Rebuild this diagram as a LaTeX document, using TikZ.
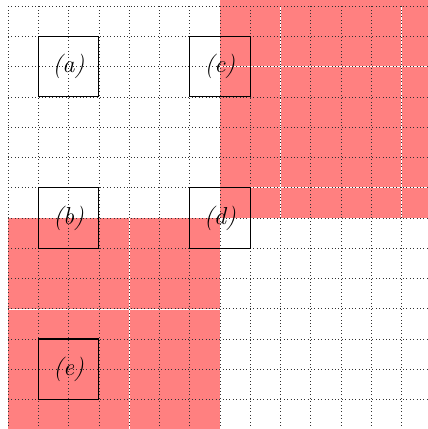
\documentclass[tikz,border=0pt]{standalone}
\definecolor{pinkred}{RGB}{255,128,128}
\begin{document}
\begin{tikzpicture}[
  gridline/.style={line width=0.6pt, black!80, dash pattern=on 0.6pt off 2.6pt},
  seam/.style={white, line width=0.5pt},
  lbox/.style={draw=black, line width=1.1pt, minimum size=2cm, inner sep=0pt,
    font=\fontsize{23}{27}\selectfont\itshape}]
\useasboundingbox (-0.264,0.03) rectangle (13.87,14.198);
\clip (-0.264,0.03) rectangle (13.87,14.198);
\fill[pinkred] (7,7) rectangle (14.2,14.2);
\fill[pinkred] (0,-0.2) rectangle (7,7);
% thin light seams in the filled areas
\draw[seam] (9,7) -- (9,14);
\draw[seam] (13,7) -- (13,14);
\draw[seam] (7,12) -- (14.2,12);
\draw[seam] (7,8) -- (14.2,8);
\draw[seam] (4,-0.2) -- (4,7);
\draw[seam] (0,4) -- (7,4);
% dotted grid
\draw[gridline] (0,-0.2) grid (14.2,14);
% labelled boxes
\node[lbox] (a) at (2,12) {(a)};
\node[lbox] (c) at (7,12) {(c)};
\node[lbox] (b) at (2,7) {(b)};
\node[lbox] (d) at (7,7) {(d)};
\node[lbox] (e) at (2,2) {(e)};
\end{tikzpicture}
\end{document}
